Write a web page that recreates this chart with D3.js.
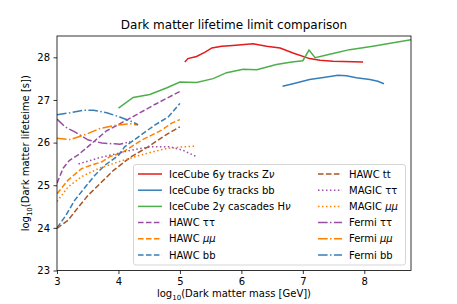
<!DOCTYPE html>
<html>
<head>
<meta charset="utf-8">
<script src="https://cdn.jsdelivr.net/npm/d3@7"></script>
<style>
  body { margin: 0; background: #fff; }
  svg text { font-family: "DejaVu Sans", sans-serif; fill: #000; }
</style>
</head>
<body>
<svg id="chart" width="457" height="304"></svg>
<script>
// log10(mass [GeV]) , log10(lifetime [s]) pairs
const icZnu = [[5.08,27.89],[5.13,27.97],[5.27,28.02],[5.41,28.12],[5.52,28.22],[5.68,28.26],[5.86,28.28],[6.19,28.32],[6.41,28.26],[6.63,28.22],[6.84,28.1],[7.11,27.97],[7.28,27.93],[7.49,27.91],[7.98,27.89]];
const icBb = [[6.67,27.32],[6.84,27.38],[7.11,27.48],[7.39,27.54],[7.57,27.58],[7.71,27.57],[7.87,27.52],[8.09,27.48],[8.22,27.44],[8.32,27.38]];
const icHnu = [[4.0,26.81],[4.24,27.06],[4.51,27.13],[4.78,27.28],[5.0,27.42],[5.27,27.41],[5.54,27.5],[5.76,27.64],[6.03,27.72],[6.25,27.71],[6.57,27.83],[6.82,27.89],[7.0,27.92],[7.1,28.17],[7.2,27.99],[7.49,28.09],[7.76,28.18],[8.14,28.26],[8.47,28.34],[8.76,28.41]];
const hawcTauTau = [[3.0,25.05],[3.1,25.4],[3.2,25.58],[3.35,25.72],[3.5,25.9],[3.8,26.27],[4.2,26.58],[4.6,26.9],[5.0,27.2]];
const hawcMuMu = [[3.0,24.8],[3.18,25.12],[3.4,25.39],[3.56,25.47],[3.73,25.55],[3.86,25.67],[4.05,25.76],[4.38,26.06],[4.7,26.29],[4.86,26.45],[5.0,26.54]];
const hawcBb = [[3.0,24.0],[3.13,24.26],[3.29,24.65],[3.46,24.96],[3.62,25.24],[3.78,25.47],[4.0,25.7],[4.1,25.9],[4.32,26.13],[4.59,26.41],[4.81,26.6],[5.0,26.92]];
const hawcTt = [[3.0,23.99],[3.18,24.18],[3.35,24.49],[3.51,24.77],[3.73,25.08],[3.92,25.35],[4.1,25.55],[4.21,25.67],[4.48,25.9],[4.76,26.17],[5.0,26.37]];
const magicTauTau = [[3.35,25.5],[3.54,25.58],[3.7,25.65],[3.97,25.74],[4.2,25.82],[4.51,25.9],[4.84,25.9],[5.05,25.82],[5.27,25.67]];
const magicMuMu = [[3.0,24.62],[3.18,24.96],[3.4,25.2],[3.67,25.39],[4.0,25.55],[4.32,25.69],[4.6,25.8],[4.78,25.86],[5.05,25.9],[5.27,25.92]];
const fermiTauTau = [[3.0,26.55],[3.13,26.37],[3.29,26.25],[3.51,26.06],[3.73,25.99],[3.94,25.97],[4.02,25.96],[4.19,26.02]];
const fermiMuMu = [[3.0,26.1],[3.21,26.07],[3.43,26.17],[3.7,26.33],[3.97,26.41],[4.19,26.44],[4.32,26.41]];
const fermiBb = [[3.0,26.65],[3.21,26.7],[3.43,26.76],[3.59,26.76],[3.81,26.7],[4.02,26.6],[4.19,26.51],[4.32,26.42]];

// legend labels: [plain part, italic (math) part]
const seriesNames = [['IceCube 6y tracks Z','\u03bd'],['IceCube 6y tracks bb',''],['IceCube 2y cascades H','\u03bd'],
  ['HAWC \u03c4\u03c4',''],['HAWC ','\u03bc\u03bc'],['HAWC bb',''],['HAWC tt',''],['MAGIC \u03c4\u03c4',''],['MAGIC ','\u03bc\u03bc'],
  ['Fermi \u03c4\u03c4',''],['Fermi ','\u03bc\u03bc'],['Fermi bb','']];
const seriesData = [icZnu, icBb, icHnu, hawcTauTau, hawcMuMu, hawcBb, hawcTt, magicTauTau, magicMuMu, fermiTauTau, fermiMuMu, fermiBb];
const xTicks = [3, 4, 5, 6, 7, 8];
const yTicks = [23, 24, 25, 26, 27, 28];

const red = '#e41a1c', blue = '#377eb8', green = '#4daf4a', purple = '#984ea3', orange = '#ff7f00', brown = '#a65628';
const seriesColors = [red, blue, green, purple, orange, blue, brown, purple, orange, purple, orange, blue];
const solid = null, dashed = '5.55,2.4', dotted = '1.5,2.475', dashdot = '9.6,2.4,1.5,2.4';
const seriesDash = [solid, solid, solid, dashed, dashed, dashed, dashed, dotted, dotted, dashdot, dashdot, dashdot];

const margin = {left: 57, top: 36, right: 46, bottom: 33.5};
const W = 457, H = 304;
const svg = d3.select('#chart');

const x = d3.scaleLinear().domain([3, 8.76]).range([margin.left, W - margin.right]);
const y = d3.scaleLinear().domain([23, 28.5]).range([H - margin.bottom, margin.top]);

svg.append('clipPath').attr('id', 'clip')
  .append('rect')
  .attr('x', margin.left).attr('y', margin.top)
  .attr('width', x.range()[1] - margin.left).attr('height', y.range()[0] - margin.top);

const line = d3.line().x(d => x(d[0])).y(d => y(d[1]));

svg.append('g').attr('clip-path', 'url(#clip)')
  .selectAll('path')
  .data(seriesData)
  .enter()
  .append('path')
  .attr('d', d => line(d))
  .attr('fill', 'none')
  .attr('stroke', (d, i) => seriesColors[i])
  .attr('stroke-width', 1.5)
  .attr('stroke-dasharray', (d, i) => seriesDash[i]);

// axes
const xAxis = svg.append('g')
  .attr('transform', `translate(0,${y.range()[0]})`)
  .call(d3.axisBottom(x).tickValues(xTicks).tickFormat(d3.format('d')).tickSizeOuter(0).tickSize(3.5).tickPadding(3.5));
const yAxis = svg.append('g')
  .attr('transform', `translate(${margin.left},0)`)
  .call(d3.axisLeft(y).tickValues(yTicks).tickFormat(d3.format('d')).tickSizeOuter(0).tickSize(3.5).tickPadding(3.5));
[xAxis, yAxis].forEach(a => {
  a.select('.domain').remove();
  a.selectAll('line').attr('stroke', '#000').attr('stroke-width', 0.8);
  a.selectAll('text').attr('font-size', 10).attr('font-family', '"DejaVu Sans", sans-serif');
});

// frame
svg.append('rect')
  .attr('x', margin.left).attr('y', margin.top)
  .attr('width', x.range()[1] - margin.left).attr('height', y.range()[0] - margin.top)
  .attr('fill', 'none').attr('stroke', '#000').attr('stroke-width', 0.8);

// title and labels
svg.append('text')
  .attr('x', (margin.left + x.range()[1]) / 2).attr('y', 29)
  .attr('text-anchor', 'middle').attr('font-size', 12)
  .text('Dark matter lifetime limit comparison');

function logLabel(g, rest) {
  g.append('tspan').text('log');
  g.append('tspan').attr('font-size', 7).attr('dy', 2.5).text('10');
  g.append('tspan').attr('dy', -2.5).text(rest);
}

const xl = svg.append('text')
  .attr('x', (margin.left + x.range()[1]) / 2).attr('y', 297)
  .attr('text-anchor', 'middle').attr('font-size', 10);
logLabel(xl, '(Dark matter mass [GeV])');

const yl = svg.append('text')
  .attr('transform', `translate(29,${(margin.top + y.range()[0]) / 2}) rotate(-90)`)
  .attr('text-anchor', 'middle').attr('font-size', 10);
logLabel(yl, '(Dark matter lifeteime [s])');

// legend
const legend = svg.append('g');
legend.append('rect')
  .attr('x', 133.5).attr('y', 164.5).attr('width', 272).attr('height', 100.5)
  .attr('rx', 2.5)
  .attr('fill', '#fff').attr('fill-opacity', 0.8)
  .attr('stroke', '#cccccc').attr('stroke-width', 0.8);

const items = legend.selectAll('g.item')
  .data(seriesNames)
  .enter()
  .append('g')
  .attr('class', 'item')
  .attr('transform', (d, i) => `translate(${i < 6 ? 138 : 318},${174 + (i % 6) * 16.2})`);
items.append('line')
  .attr('x1', 0).attr('x2', 24).attr('y1', 0).attr('y2', 0)
  .attr('stroke', (d, i) => seriesColors[i])
  .attr('stroke-width', 1.5)
  .attr('stroke-dasharray', (d, i) => seriesDash[i]);
const labels = items.append('text')
  .attr('x', 31).attr('y', 3.6)
  .attr('font-size', 10);
labels.append('tspan').text(d => d[0]);
labels.append('tspan').attr('font-style', 'italic').text(d => d[1]);
</script>
</body>
</html>
